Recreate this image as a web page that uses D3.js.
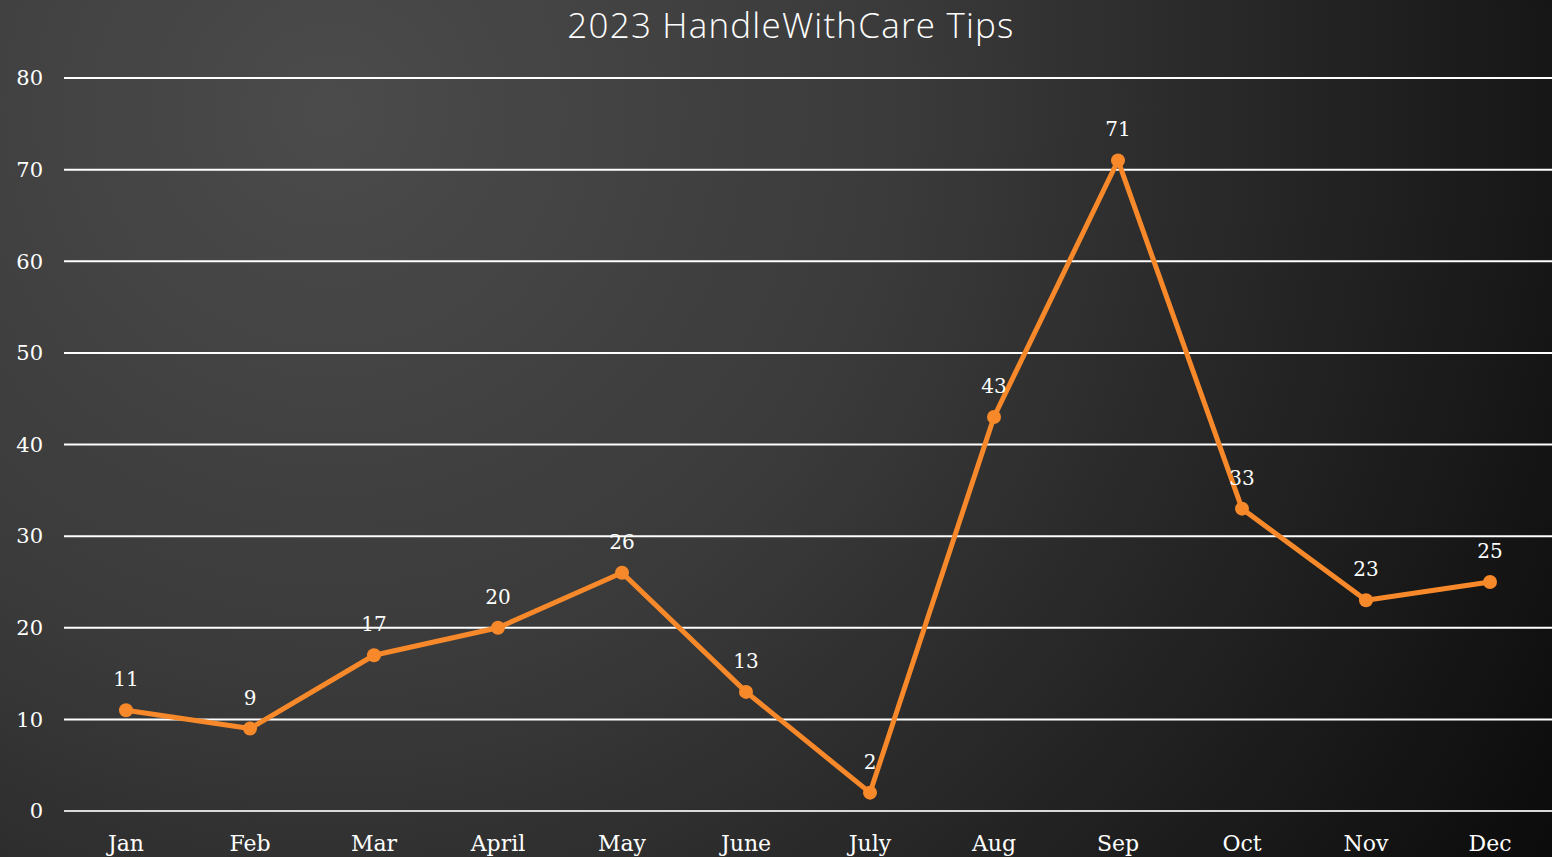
<!DOCTYPE html>
<html>
<head>
<meta charset="utf-8">
<script src="https://cdn.jsdelivr.net/npm/d3@7"></script>
<style>
  html, body { margin: 0; padding: 0; background: #111; overflow: hidden; }
  svg { display: block; }
</style>
</head>
<body>
<div id="chart"></div>
<script>
// 2023 HandleWithCare tips, monthly counts
const months = ["Jan", "Feb", "Mar", "April", "May", "June", "July", "Aug", "Sep", "Oct", "Nov", "Dec"];
const tips = [11, 9, 17, 20, 26, 13, 2, 43, 71, 33, 23, 25];
const yTicks = [0, 10, 20, 30, 40, 50, 60, 70, 80];
const chartTitle = "2023 HandleWithCare Tips";

const data = months.map((m, i) => ({ month: m, value: tips[i] }));

const width = 1552;
const height = 857;
const margin = { top: 78, right: 0, bottom: 46, left: 64 };

const svg = d3.select("#chart")
  .append("svg")
  .attr("width", width)
  .attr("height", height);

// background gradient, light top-left to dark bottom-right
const defs = svg.append("defs");
const grad = defs.append("radialGradient")
  .attr("id", "bg")
  .attr("gradientUnits", "userSpaceOnUse")
  .attr("cx", 330).attr("cy", 110).attr("r", 1450);
grad.append("stop").attr("offset", "0%").attr("stop-color", "#4b4b4b");
grad.append("stop").attr("offset", "40%").attr("stop-color", "#3a3a3a");
grad.append("stop").attr("offset", "100%").attr("stop-color", "#0a0a0a");

svg.append("rect")
  .attr("width", width)
  .attr("height", height)
  .attr("fill", "url(#bg)");

const x = d3.scalePoint()
  .domain(months)
  .range([margin.left, width - margin.right])
  .padding(0.5);

const y = d3.scaleLinear()
  .domain([0, 80])
  .range([height - margin.bottom, margin.top]);

// gridlines
svg.append("g")
  .selectAll("line")
  .data(yTicks)
  .join("line")
  .attr("x1", margin.left)
  .attr("x2", width - margin.right)
  .attr("y1", d => y(d))
  .attr("y2", d => y(d))
  .attr("stroke", d => d === 0 ? "#d9d9d9" : "#ffffff")
  .attr("stroke-width", 2);

// y axis labels
svg.append("g")
  .selectAll("text")
  .data(yTicks)
  .join("text")
  .attr("x", 43)
  .attr("y", d => y(d))
  .attr("dy", "0.35em")
  .attr("text-anchor", "end")
  .attr("fill", "#ffffff")
  .style("font", "21px 'DejaVu Serif', serif")
  .text(d => d);

// x axis labels
svg.append("g")
  .selectAll("text")
  .data(months)
  .join("text")
  .attr("x", d => x(d))
  .attr("y", height - 6)
  .attr("text-anchor", "middle")
  .attr("fill", "#ffffff")
  .style("font", "22px 'DejaVu Serif', serif")
  .text(d => d);

// line
const line = d3.line()
  .x(d => x(d.month))
  .y(d => y(d.value));

svg.append("path")
  .datum(data)
  .attr("fill", "none")
  .attr("stroke", "#f7892a")
  .attr("stroke-width", 5)
  .attr("stroke-linejoin", "round")
  .attr("d", line);

svg.append("g")
  .selectAll("circle")
  .data(data)
  .join("circle")
  .attr("cx", d => x(d.month))
  .attr("cy", d => y(d.value))
  .attr("r", 7)
  .attr("fill", "#f7892a");

// data labels
svg.append("g")
  .selectAll("text")
  .data(data)
  .join("text")
  .attr("x", d => x(d.month))
  .attr("y", d => y(d.value) - 31)
  .attr("dy", "0.35em")
  .attr("text-anchor", "middle")
  .attr("fill", "#ffffff")
  .style("font", "20px 'DejaVu Serif', serif")
  .text(d => d.value);

// title
svg.append("text")
  .attr("x", 791)
  .attr("y", 38)
  .attr("text-anchor", "middle")
  .attr("fill", "#ffffff")
  .style("font", "300 35px 'Open Sans', sans-serif")
  .style("letter-spacing", "1.2px")
  .text(chartTitle);
</script>
</body>
</html>
